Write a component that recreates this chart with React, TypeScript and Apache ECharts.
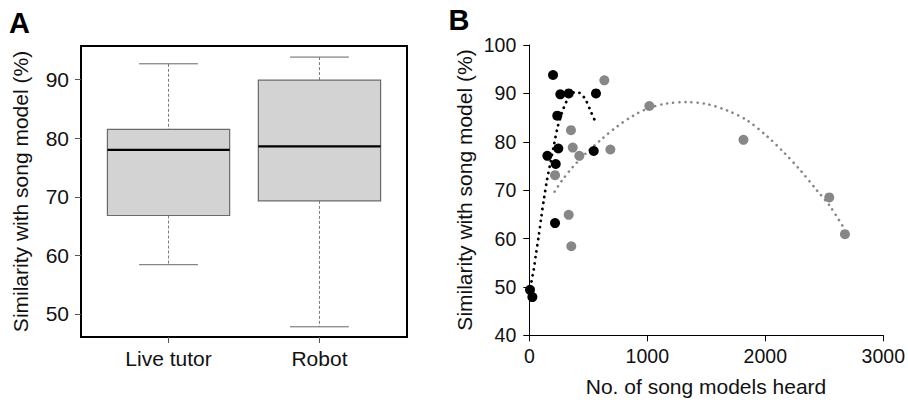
import React, { useEffect, useRef } from "react";
import * as echarts from "echarts";

// Panel A: box plot summaries [position, lowerWhisker, q1, median, q3, upperWhisker]
const boxCategories = ["Live tutor", "Robot"];
const boxStats = [
  [1, 58.4, 66.8, 78.0, 81.5, 92.7],
  [2, 47.8, 69.3, 78.6, 89.9, 93.85],
];
const boxYTicks = [50, 60, 70, 80, 90];

// Panel B: scatter data [no. of song models heard, similarity %]
const liveTutorPoints = [
  [201, 93.8], [263, 89.8], [334, 90.0], [565, 90.0], [237, 85.4],
  [246, 78.6], [153, 77.1], [224, 75.4], [546, 78.1], [218, 63.2],
  [6, 49.4], [26, 47.9],
];
const robotPoints = [
  [636, 92.7], [1017, 87.4], [353, 82.4], [368, 78.8], [424, 77.1],
  [687, 78.4], [218, 73.1], [334, 64.9], [356, 58.4], [1815, 80.4],
  [2542, 68.5], [2675, 60.9],
];
// Fitted curves
const liveTutorFit = [
  [10, 49.9], [17, 50.9], [37, 53.5], [57, 56.9], [79, 60.4], [102, 64.5],
  [125, 68.3], [150, 72.1], [178, 75.5], [212, 79.7], [240, 83.0],
  [277, 86.0], [314, 88.3], [356, 89.9], [395, 90.3], [432, 90.0],
  [475, 88.8], [517, 86.5], [565, 83.9],
];
const robotFit = [
  [215, 69.7], [277, 72.0], [362, 74.6], [475, 77.5], [616, 80.6],
  [741, 83.1], [881, 85.4], [1017, 87.0], [1164, 87.9], [1334, 88.2],
  [1503, 87.8], [1673, 86.5], [1842, 84.5], [2012, 81.2], [2153, 77.9],
  [2294, 74.2], [2436, 70.0], [2548, 66.7], [2675, 61.8],
];

const FONT = "'Liberation Sans', Arial, Helvetica, sans-serif";
const GREY = "#878787";

export default function App() {
  const ref = useRef<HTMLDivElement>(null);
  useEffect(() => {
    document.body.style.margin = "0";
    const chart = echarts.init(ref.current!, undefined, { renderer: "svg" });

    const renderBox = (params: any, api: any) => {
      const x = api.value(0);
      const lo = api.coord([x, api.value(1)]);
      const q1 = api.coord([x, api.value(2)]);
      const med = api.coord([x, api.value(3)]);
      const q3 = api.coord([x, api.value(4)]);
      const hi = api.coord([x, api.value(5)]);
      const bw = api.size([0.81, 0])[0];
      const cw = api.size([0.39, 0])[0];
      const cx = lo[0];
      return {
        type: "group",
        children: [
          { type: "line", shape: { x1: cx, y1: hi[1], x2: cx, y2: q3[1] }, style: { stroke: "#7a7a7a", lineWidth: 1, lineDash: [3, 2] } },
          { type: "line", shape: { x1: cx, y1: q1[1], x2: cx, y2: lo[1] }, style: { stroke: "#7a7a7a", lineWidth: 1, lineDash: [3, 2] } },
          { type: "line", shape: { x1: cx - cw / 2, y1: hi[1], x2: cx + cw / 2, y2: hi[1] }, style: { stroke: "#666", lineWidth: 1 } },
          { type: "line", shape: { x1: cx - cw / 2, y1: lo[1], x2: cx + cw / 2, y2: lo[1] }, style: { stroke: "#666", lineWidth: 1 } },
          { type: "rect", shape: { x: cx - bw / 2, y: q3[1], width: bw, height: q1[1] - q3[1] }, style: { fill: "#d3d3d3", stroke: "#6a6a6a", lineWidth: 1.2 } },
          { type: "line", shape: { x1: cx - bw / 2, y1: med[1], x2: cx + bw / 2, y2: med[1] }, style: { stroke: "#000", lineWidth: 2.4 } },
        ],
      };
    };

    chart.setOption({
      animation: false,
      textStyle: { fontFamily: FONT },
      grid: [
        { left: 81, top: 46, width: 326, height: 291, show: true, borderColor: "#000", borderWidth: 2, backgroundColor: "transparent" },
        { left: 529.3, top: 45, width: 354, height: 290.3 },
      ],
      xAxis: [
        {
          type: "value", gridIndex: 0, min: 0.42, max: 2.58,
          axisLine: { show: false }, splitLine: { show: false },
          axisTick: { show: true, customValues: [1, 2], length: 6, lineStyle: { color: "#555" } },
          axisLabel: {
            customValues: [1, 2], margin: 11, fontSize: 21, color: "#111", fontFamily: FONT,
            formatter: (v: number) => boxCategories[Math.round(v) - 1] ?? "",
          },
        },
        {
          type: "value", gridIndex: 1, min: 0, max: 3000, interval: 1000,
          axisLine: { show: true, onZero: false, lineStyle: { color: "#000", width: 1 } },
          splitLine: { show: false },
          axisTick: { show: true, length: 6, lineStyle: { color: "#000" } },
          axisLabel: {
            margin: 11, fontSize: 19.5, color: "#111", fontFamily: FONT, showMaxLabel: true, showMinLabel: true,
            formatter: (v: number) => String(v),
          },
        },
      ],
      yAxis: [
        {
          type: "value", gridIndex: 0, min: 46.06, max: 95.74,
          axisLine: { show: false }, splitLine: { show: false },
          axisTick: { show: true, customValues: boxYTicks, length: 6, lineStyle: { color: "#555" } },
          axisLabel: { customValues: boxYTicks, margin: 12, fontSize: 21, color: "#111", fontFamily: FONT },
        },
        {
          type: "value", gridIndex: 1, min: 40, max: 100, interval: 10,
          axisLine: { show: true, onZero: false, lineStyle: { color: "#000", width: 1 } },
          splitLine: { show: false },
          axisTick: { show: true, length: 6, lineStyle: { color: "#000" } },
          axisLabel: { margin: 13, fontSize: 19.5, color: "#111", fontFamily: FONT, showMaxLabel: true, showMinLabel: true },
        },
      ],
      series: [
        {
          type: "custom", xAxisIndex: 0, yAxisIndex: 0, renderItem: renderBox,
          data: boxStats, encode: { x: 0, y: [1, 2, 3, 4, 5] }, clip: false,
        },
        {
          type: "line", xAxisIndex: 1, yAxisIndex: 1, data: robotFit, smooth: 0.3,
          showSymbol: false, symbol: "none",
          lineStyle: { color: GREY, width: 2.6, type: [0.1, 6], cap: "round" }, z: 2,
        },
        {
          type: "line", xAxisIndex: 1, yAxisIndex: 1, data: liveTutorFit, smooth: 0.3,
          showSymbol: false, symbol: "none",
          lineStyle: { color: "#000", width: 2.8, type: [0.1, 6], cap: "round" }, z: 2,
        },
        {
          type: "scatter", xAxisIndex: 1, yAxisIndex: 1, data: robotPoints,
          symbolSize: 10, itemStyle: { color: GREY, opacity: 1 }, z: 3,
        },
        {
          type: "scatter", xAxisIndex: 1, yAxisIndex: 1, data: liveTutorPoints,
          symbolSize: 10, itemStyle: { color: "#000", opacity: 1 }, z: 4,
        },
      ],
      graphic: [
        { type: "text", x: 19.5, y: 22.5, style: { text: "A", fontSize: 29, fontWeight: "bold", fontFamily: FONT, fill: "#000", align: "center", verticalAlign: "middle" } },
        { type: "text", x: 459, y: 20, style: { text: "B", fontSize: 29, fontWeight: "bold", fontFamily: FONT, fill: "#000", align: "center", verticalAlign: "middle" } },
        { type: "text", x: 20, y: 191.5, rotation: Math.PI / 2, style: { text: "Similarity with song model (%)", fontSize: 21, fontFamily: FONT, fill: "#111", align: "center", verticalAlign: "middle" } },
        { type: "text", x: 464, y: 190, rotation: Math.PI / 2, style: { text: "Similarity with song model (%)", fontSize: 21, fontFamily: FONT, fill: "#111", align: "center", verticalAlign: "middle" } },
        { type: "text", x: 706, y: 386, style: { text: "No. of song models heard", fontSize: 21, fontFamily: FONT, fill: "#111", align: "center", verticalAlign: "middle" } },
      ],
    });
    return () => chart.dispose();
  }, []);
  return <div ref={ref} style={{ width: 908, height: 405 }} />;
}
